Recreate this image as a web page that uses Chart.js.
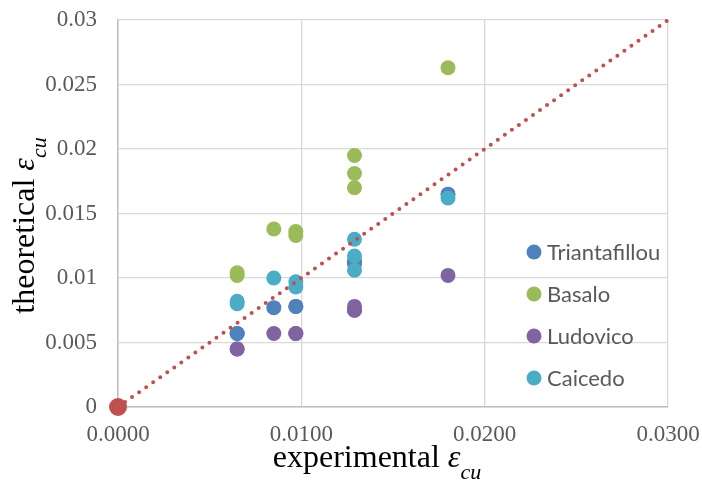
<!DOCTYPE html>
<html>
<head>
<meta charset="utf-8">
<script src="https://cdn.jsdelivr.net/npm/chart.js@4.4.1/dist/chart.umd.min.js"></script>
<style>
  body { margin: 0; background: #fff; }
  #wrap { width: 702px; height: 483px; }
</style>
</head>
<body>
<div id="wrap"><canvas id="strainChart" width="702" height="483"></canvas></div>
<script>
// experimental ultimate strain of each specimen (x) and the predicted value of each model (y)
const experimental = [0.0065, 0.0065, 0.0085, 0.0097, 0.0097, 0.0129, 0.0129, 0.0129, 0.0180];
const triantafillou = [0.0057, 0.0057, 0.0077, 0.0078, 0.0078, 0.0113, 0.0112, 0.0111, 0.0165];
const basalo = [0.0104, 0.0102, 0.0138, 0.0136, 0.0133, 0.0195, 0.0181, 0.0170, 0.0263];
const ludovico = [0.0045, 0.0045, 0.0057, 0.0057, 0.0057, 0.0078, 0.0075, 0.0075, 0.0102];
const caicedo = [0.0082, 0.0080, 0.0100, 0.0097, 0.0093, 0.0130, 0.0117, 0.0106, 0.0162];

// line of equality
const equalityX = [0, 0.03];
const equalityY = [0, 0.03];

const xTicks = [0, 0.01, 0.02, 0.03];
const yTicks = [0, 0.005, 0.01, 0.015, 0.02, 0.025, 0.03];

function pairs(xs, ys) {
  return xs.map((x, i) => ({ x: x, y: ys[i] }));
}

function modelSet(label, values, color, order) {
  return {
    type: 'scatter',
    label: label,
    data: pairs(experimental, values),
    backgroundColor: color,
    borderColor: color,
    borderWidth: 0,
    pointRadius: 7.5,
    pointHoverRadius: 8,
    order: order
  };
}

// axis titles with italic epsilon and "cu" subscript
function drawStrainTitle(ctx, word, x, y) {
  ctx.save();
  ctx.fillStyle = '#000';
  ctx.textBaseline = 'alphabetic';
  ctx.textAlign = 'left';
  const main = '32px "Liberation Serif"';
  const ital = 'italic 32px "Liberation Serif"';
  const sub = 'italic 22px "Liberation Serif"';
  ctx.font = main;
  const w1 = ctx.measureText(word + ' ').width;
  ctx.font = ital;
  const w2 = ctx.measureText('ε').width;
  ctx.font = sub;
  const w3 = ctx.measureText('cu').width;
  let cx = x - (w1 + w2 + w3) / 2;
  ctx.font = main;
  ctx.fillText(word + ' ', cx, y);
  cx += w1;
  ctx.font = ital;
  ctx.fillText('ε', cx, y);
  cx += w2;
  ctx.font = sub;
  ctx.fillText('cu', cx, y + 12);
  ctx.restore();
}

const extras = {
  id: 'extras',
  afterDraw(chart) {
    const ctx = chart.ctx;
    const area = chart.chartArea;

    drawStrainTitle(ctx, 'experimental', (area.left + area.right) / 2 - 16, area.bottom + 60);

    ctx.save();
    ctx.translate(34, (area.top + area.bottom) / 2 + 12);
    ctx.rotate(-Math.PI / 2);
    drawStrainTitle(ctx, 'theoretical', 0, 0);
    ctx.restore();

    // legend sits inside the plot, lower right
    const items = chart.data.datasets.filter(d => d.type === 'scatter');
    ctx.save();
    ctx.font = '22px Lato';
    ctx.textBaseline = 'middle';
    ctx.textAlign = 'left';
    items.forEach((d, i) => {
      const y = 252 + i * 42;
      ctx.fillStyle = d.backgroundColor;
      ctx.beginPath();
      ctx.arc(534, y, 7.5, 0, Math.PI * 2);
      ctx.fill();
      ctx.fillStyle = '#595959';
      ctx.fillText(d.label, 547, y + 1);
    });
    ctx.restore();
  }
};

new Chart(document.getElementById('strainChart').getContext('2d'), {
  type: 'scatter',
  data: {
    datasets: [
      modelSet('Triantafillou', triantafillou, '#4F81BD', 4),
      modelSet('Basalo', basalo, '#9BBB59', 3),
      modelSet('Ludovico', ludovico, '#8064A2', 2),
      modelSet('Caicedo', caicedo, '#4BACC6', 1),
      {
        type: 'line',
        label: 'equality',
        data: pairs(equalityX, equalityY),
        borderColor: '#C0504D',
        backgroundColor: '#C0504D',
        borderWidth: 4,
        borderDash: [0, 8.6],
        borderCapStyle: 'round',
        fill: false,
        pointRadius: [7, 0],
        pointHoverRadius: [7, 0],
        clip: false,
        order: 0
      }
    ]
  },
  options: {
    responsive: false,
    animation: false,
    layout: { padding: { left: 0, right: 34, top: 20, bottom: 0 } },
    plugins: {
      legend: { display: false },
      tooltip: { enabled: true }
    },
    scales: {
      x: {
        type: 'linear',
        min: 0,
        max: 0.03,
        afterFit(scale) {
          scale.height = 76;
          scale.paddingLeft = 0;
          scale.paddingRight = 0;
        },
        afterBuildTicks(scale) { scale.ticks = xTicks.map(v => ({ value: v })); },
        grid: { color: '#D9D9D9', lineWidth: 1.3, drawTicks: false },
        border: { color: '#BFBFBF', width: 1.5 },
        ticks: {
          padding: 14,
          color: '#595959',
          font: { family: '"Liberation Serif"', size: 23 },
          callback: v => v.toFixed(4)
        }
      },
      y: {
        type: 'linear',
        min: 0,
        max: 0.03,
        afterFit(scale) {
          scale.width = 118;
          scale.paddingTop = 0;
          scale.paddingBottom = 0;
        },
        afterBuildTicks(scale) { scale.ticks = yTicks.map(v => ({ value: v })); },
        grid: { color: '#D9D9D9', lineWidth: 1.3, drawTicks: false },
        border: { color: '#BFBFBF', width: 1.5 },
        ticks: {
          padding: 21,
          color: '#595959',
          font: { family: '"Liberation Serif"', size: 23 },
          callback: v => String(Number(v.toFixed(3)))
        }
      }
    }
  },
  plugins: [extras]
});
</script>
</body>
</html>
